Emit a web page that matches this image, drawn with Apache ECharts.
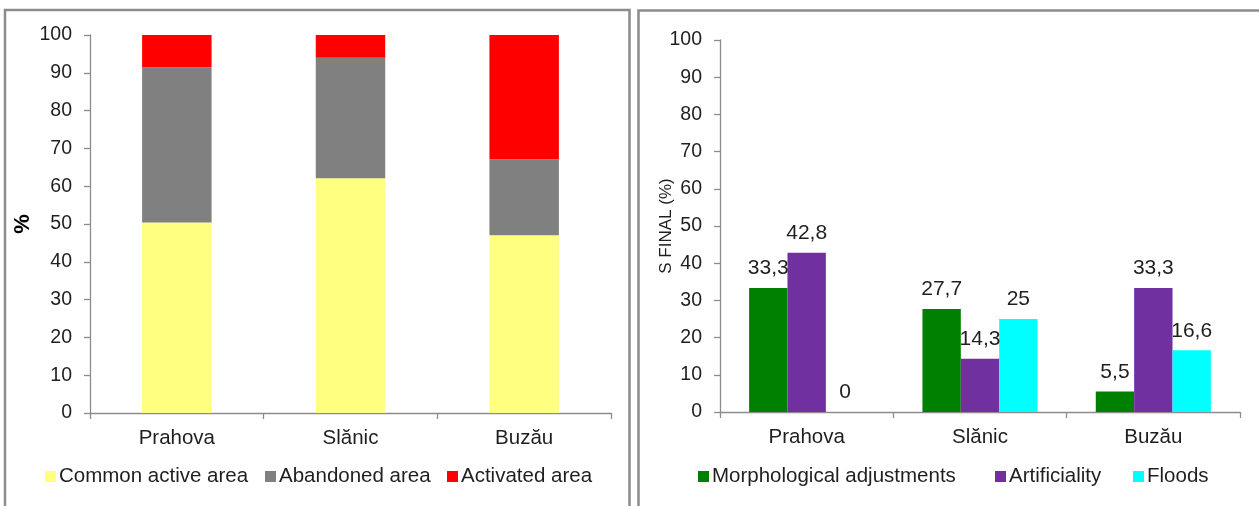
<!DOCTYPE html>
<html>
<head>
<meta charset="utf-8">
<script src="https://cdn.jsdelivr.net/npm/echarts@6/dist/echarts.min.js"></script>
<style>
html,body{margin:0;padding:0;background:#fff;}
#c{width:1259px;height:506px;}
</style>
</head>
<body>
<div id="c"></div>
<script>
// ---- data ----
var categories = ['Prahova', 'Slănic', 'Buzău'];
// left chart: area shares (%)
var commonActive = [50.4, 62.1, 47.0];
var abandoned    = [41.1, 31.9, 20.1];
var activated    = [8.5, 6.0, 32.9];
// right chart: S FINAL (%)
var morphological = [33.3, 27.7, 5.5];
var artificiality = [42.8, 14.3, 33.3];
var floods        = [0, 25, 16.6];
var yTicks = { min: 0, max: 100, interval: 10 };

var FONT = '"Liberation Sans", Arial, sans-serif';
var TXT = '#1f1f1f';
var AX = '#8c8c8c';

function commaFmt(p) { return String(p.value).replace('.', ','); }

function xAxis(gi) {
  return {
    type: 'category', gridIndex: gi, data: categories, boundaryGap: true,
    axisLine: { lineStyle: { color: AX, width: 1.3 } },
    axisTick: { show: true, length: 6, lineStyle: { color: AX, width: 1.3 } },
    axisLabel: { color: TXT, fontSize: 20.5, fontFamily: FONT, margin: 15 },
    splitLine: { show: false }
  };
}
function yAxis(gi, name, nameStyle, nameGap) {
  return {
    type: 'value', gridIndex: gi, min: yTicks.min, max: yTicks.max, interval: yTicks.interval,
    name: name, nameLocation: 'middle', nameGap: nameGap, nameTextStyle: nameStyle,
    nameMoveOverlap: false,
    axisLine: { show: true, lineStyle: { color: AX, width: 1.3 } },
    axisTick: { show: true, length: 6, lineStyle: { color: AX, width: 1.3 } },
    axisLabel: { color: TXT, fontSize: 19.5, fontFamily: FONT, margin: 18 },
    splitLine: { show: false }
  };
}
function legendAt(name, left, top) {
  return {
    data: [name], left: left, top: top, itemWidth: 11, itemHeight: 11, itemGap: 0,
    icon: 'rect', padding: 0,
    textStyle: { color: TXT, fontSize: 20.5, fontFamily: FONT, padding: [0, 0, 0, -2] },
    selectedMode: false
  };
}

var chart = echarts.init(document.getElementById('c'), null, { renderer: 'canvas' });
var labelStyle = { show: true, position: 'top', distance: 9, color: TXT, fontSize: 21, fontFamily: FONT, formatter: commaFmt };

chart.setOption({
  animation: false,
  backgroundColor: '#fff',
  grid: [
    { left: 90, right: 648, top: 35, bottom: 93 },
    { left: 720, right: 19, top: 40, bottom: 94 }
  ],
  xAxis: [xAxis(0), xAxis(1)],
  yAxis: [
    yAxis(0, '%', { color: '#000', fontSize: 22, fontWeight: 'bold', fontFamily: FONT }, 56),
    yAxis(1, 'S FINAL (%)', { color: TXT, fontSize: 17, fontFamily: FONT }, 45)
  ],
  legend: [
    legendAt('Common active area', 45, 466),
    legendAt('Abandoned area', 265, 466),
    legendAt('Activated area', 447, 466),
    legendAt('Morphological adjustments', 698, 466),
    legendAt('Artificiality', 995, 466),
    legendAt('Floods', 1133, 466)
  ],
  series: [
    { name: 'Common active area', type: 'bar', stack: 'a', xAxisIndex: 0, yAxisIndex: 0, data: commonActive, barCategoryGap: '60%', itemStyle: { color: '#FFFF80' } },
    { name: 'Abandoned area', type: 'bar', stack: 'a', xAxisIndex: 0, yAxisIndex: 0, data: abandoned, barCategoryGap: '60%', itemStyle: { color: '#808080' } },
    { name: 'Activated area', type: 'bar', stack: 'a', xAxisIndex: 0, yAxisIndex: 0, data: activated, barCategoryGap: '60%', itemStyle: { color: '#FF0000' } },
    { name: 'Morphological adjustments', type: 'bar', xAxisIndex: 1, yAxisIndex: 1, data: morphological, barGap: '0%', barCategoryGap: '33.6%', itemStyle: { color: '#008000' }, label: labelStyle },
    { name: 'Artificiality', type: 'bar', xAxisIndex: 1, yAxisIndex: 1, data: artificiality, barGap: '0%', barCategoryGap: '33.6%', itemStyle: { color: '#7030A0' }, label: labelStyle },
    { name: 'Floods', type: 'bar', xAxisIndex: 1, yAxisIndex: 1, data: floods, barGap: '0%', barCategoryGap: '33.6%', itemStyle: { color: '#00FFFF' }, label: labelStyle }
  ],
  graphic: [
    { type: 'rect', shape: { x: 5, y: 10, width: 624.5, height: 620 }, style: { fill: null, stroke: '#8c8c8c', lineWidth: 2.5 }, silent: true },
    { type: 'rect', shape: { x: 638.5, y: 10.5, width: 640, height: 620 }, style: { fill: null, stroke: '#8c8c8c', lineWidth: 2.5 }, silent: true }
  ]
});
</script>
</body>
</html>
